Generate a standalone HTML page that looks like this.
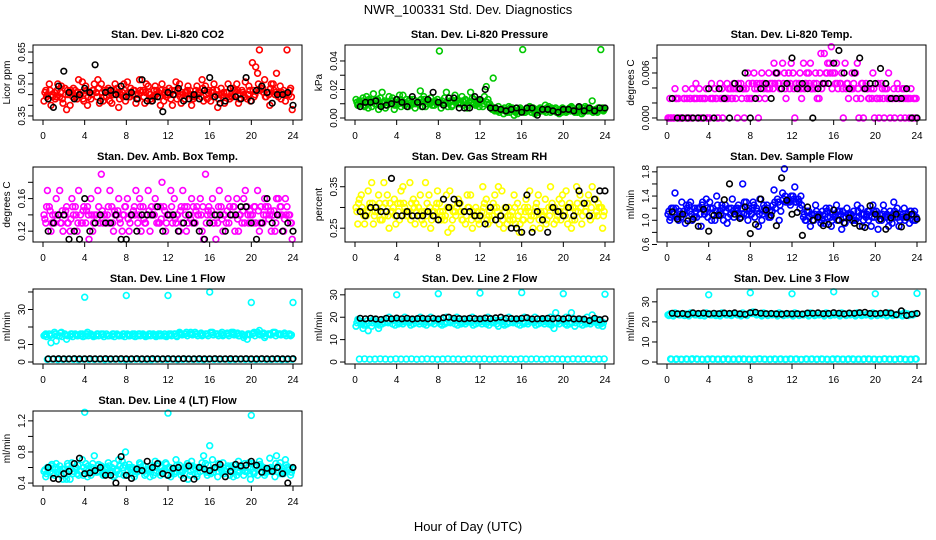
<!DOCTYPE html>
<html><head><meta charset="utf-8">
<style>
body{margin:0;background:#fff;}
svg{display:block;font-family:"Liberation Sans",Arial,sans-serif;}
</style></head>
<body>
<svg id="chart" width="936" height="540" viewBox="0 0 936 540">
<rect width="936" height="540" fill="#fff"/>
<text x="468" y="14" text-anchor="middle" font-size="13">NWR_100331  Std. Dev. Diagnostics</text>
<text x="468" y="531" text-anchor="middle" font-size="13">Hour of Day (UTC)</text>
</svg>
<script>
// ---- data (values at half-hour slots) ----
const xTicks = [0,4,8,12,16,20,24];
const co2A = [0.42,0.50,0.46,0.44,0.48,0.40,0.47,0.45,0.49,0.43,0.46,0.50,0.44,0.41,0.48,0.46,0.51,0.45,0.43,0.47,0.49,0.44,0.46,0.42,0.48,0.45,0.50,0.43,0.47,0.44,0.46,0.49,0.42,0.45,0.48,0.46,0.44,0.50,0.47,0.43,0.60,0.55,0.48,0.46,0.50,0.44,0.47,0.45];
const co2B = [0.47,0.40,0.44,0.49,0.38,0.46,0.43,0.51,0.40,0.47,0.52,0.42,0.48,0.45,0.39,0.50,0.44,0.47,0.52,0.41,0.45,0.49,0.40,0.47,0.43,0.51,0.41,0.46,0.40,0.49,0.52,0.43,0.47,0.39,0.44,0.50,0.48,0.41,0.45,0.49,0.44,0.66,0.52,0.40,0.45,0.49,0.42,0.48];
const co2C = [0.45,0.44,0.50,0.41,0.45,0.48,0.52,0.42,0.46,0.50,0.41,0.47,0.42,0.50,0.45,0.42,0.48,0.41,0.46,0.50,0.42,0.47,0.50,0.45,0.40,0.47,0.45,0.49,0.43,0.46,0.42,0.47,0.50,0.45,0.41,0.43,0.47,0.45,0.51,0.42,0.58,0.48,0.44,0.50,0.55,0.46,0.66,0.38];
const co2D = [0.46,0.47,0.43,0.46,0.45,0.47,0.44,0.46,0.47,0.45,0.44,0.46,0.47,0.45,0.46,0.44,0.46,0.47,0.45,0.44,0.46,0.47,0.44,0.46,0.45,0.47,0.44,0.46,0.45,0.47,0.44,0.45,0.46,0.47,0.45,0.46,0.44,0.47,0.46,0.45,0.47,0.50,0.46,0.45,0.47,0.46,0.45,0.47];
const co2E = [0.44,0.45,0.47,0.43,0.47,0.44,0.46,0.43,0.44,0.47,0.48,0.44,0.45,0.47,0.43,0.47,0.44,0.45,0.47,0.46,0.43,0.45,0.47,0.44,0.47,0.43,0.46,0.47,0.44,0.45,0.48,0.46,0.44,0.43,0.46,0.44,0.47,0.43,0.44,0.47,0.45,0.47,0.44,0.48,0.46,0.43,0.45,0.44];
const co2K = [0.43,0.39,0.49,0.56,0.46,0.43,0.45,0.48,0.46,0.59,0.42,0.46,0.47,0.45,0.49,0.44,0.46,0.43,0.52,0.42,0.42,0.44,0.37,0.46,0.45,0.48,0.42,0.43,0.45,0.43,0.47,0.53,0.44,0.41,0.42,0.48,0.44,0.43,0.53,0.42,0.47,0.49,0.46,0.41,0.45,0.45,0.46,0.40];
const prA = [0.013,0.010,0.015,0.008,0.012,0.018,0.009,0.014,0.011,0.016,0.008,0.013,0.010,0.015,0.012,0.009,0.047,0.014,0.011,0.016,0.010,0.013,0.018,0.009,0.012,0.022,0.008,0.005,0.006,0.004,0.007,0.003,0.048,0.005,0.007,0.004,0.006,0.008,0.005,0.003,0.006,0.007,0.004,0.006,0.008,0.005,0.006,0.048];
const prB = [0.009,0.014,0.007,0.017,0.006,0.011,0.015,0.006,0.016,0.009,0.013,0.007,0.019,0.008,0.014,0.011,0.007,0.018,0.008,0.012,0.015,0.007,0.014,0.011,0.008,0.013,0.028,0.008,0.003,0.008,0.002,0.006,0.004,0.008,0.003,0.007,0.009,0.004,0.007,0.006,0.004,0.008,0.005,0.003,0.007,0.012,0.004,0.007];
const prC = [0.012,0.008,0.012,0.010,0.014,0.007,0.012,0.010,0.008,0.013,0.011,0.010,0.008,0.012,0.009,0.013,0.010,0.008,0.012,0.010,0.009,0.011,0.013,0.008,0.015,0.010,0.005,0.006,0.005,0.007,0.004,0.005,0.006,0.004,0.006,0.005,0.007,0.005,0.004,0.007,0.006,0.005,0.007,0.004,0.006,0.005,0.007,0.006];
const prD = [0.011,0.012,0.010,0.011,0.013,0.010,0.011,0.012,0.010,0.011,0.012,0.010,0.011,0.013,0.010,0.012,0.011,0.010,0.012,0.011,0.010,0.012,0.011,0.010,0.012,0.011,0.006,0.005,0.006,0.005,0.006,0.005,0.005,0.006,0.005,0.006,0.005,0.006,0.006,0.005,0.006,0.005,0.006,0.005,0.006,0.006,0.005,0.006];
const prE = [0.010,0.009,0.013,0.012,0.009,0.012,0.010,0.009,0.013,0.010,0.009,0.012,0.013,0.010,0.011,0.010,0.012,0.011,0.009,0.013,0.012,0.009,0.010,0.012,0.010,0.009,0.007,0.004,0.007,0.004,0.005,0.007,0.004,0.007,0.004,0.005,0.004,0.007,0.004,0.004,0.005,0.007,0.004,0.007,0.005,0.004,0.007,0.005];
const prK = [0.008,0.011,0.011,0.012,0.008,0.009,0.010,0.013,0.011,0.008,0.015,0.011,0.008,0.013,0.018,0.011,0.009,0.014,0.014,0.007,0.007,0.007,0.015,0.013,0.020,0.007,0.007,0.006,0.005,0.006,0.007,0.004,0.007,0.007,0.002,0.006,0.006,0.005,0.004,0.006,0.006,0.005,0.008,0.005,0.007,0.005,0.007,0.007];
const tmA = [0,0,0.0026,0.0026,0,0.0026,0.0039,0.0026,0,0.0039,0.0046,0.0026,0.0039,0.0026,0.0046,0.0039,0.0026,0.0046,0.0060,0.0039,0.0046,0.0060,0.0073,0.0046,0.0060,0.0039,0.0073,0.0060,0.0046,0.0026,0.0086,0.0073,0.0060,0.0046,0.0073,0.0039,0.0060,0.0026,0.0046,0.0039,0.0026,0.0046,0.0039,0.0026,0.0046,0.0039,0.0026,0];
const tmB = [0.0026,0.0039,0,0.0039,0.0026,0.0046,0,0.0039,0.0046,0.0026,0.0039,0.0046,0.0026,0,0.0039,0.0060,0.0046,0,0.0039,0.0060,0.0073,0.0046,0.0060,0.0039,0,0.0060,0.0046,0.0073,0.0060,0.0086,0.0060,0.0095,0.0073,0.0060,0.0046,0.0060,0.0073,0.0046,0.0039,0.0060,0.0046,0.0026,0.0060,0.0039,0.0026,0.0039,0,0.0026];
const tmC = [0,0.0026,0,0.0026,0.0039,0,0.0026,0,0.0026,0,0.0026,0.0039,0.0046,0.0039,0,0.0026,0.0039,0.0046,0.0026,0.0046,0.0060,0.0039,0.0026,0.0073,0.0046,0.0026,0.0060,0.0039,0.0026,0.0046,0.0073,0.0060,0.0039,0,0.0026,0.0046,0,0.0039,0.0026,0,0.0026,0.0039,0,0.0026,0,0.0026,0.0039,0.0026];
const tmD = [0,0,0,0.0026,0.0026,0.0026,0.0026,0.0026,0.0026,0.0026,0.0026,0.0026,0.0026,0.0039,0.0026,0.0026,0.0046,0.0039,0.0046,0.0039,0.0039,0.0046,0.0046,0.0060,0.0039,0.0046,0.0039,0.0046,0.0039,0.0060,0.0046,0.0060,0.0046,0.0046,0.0039,0.0039,0.0026,0.0046,0.0039,0.0026,0.0026,0.0039,0.0026,0.0026,0.0039,0.0026,0.0026,0.0026];
const tmE = [0,0.0026,0,0,0,0.0026,0,0,0.0026,0,0,0.0026,0.0039,0.0046,0.0039,0.0046,0.0060,0.0026,0.0046,0.0039,0.0046,0.0039,0.0039,0.0046,0.0046,0.0039,0.0046,0.0039,0.0046,0.0039,0.0060,0.0039,0.0046,0.0039,0.0046,0.0039,0.0039,0,0.0026,0.0039,0,0,0.0026,0,0.0026,0,0.0026,0];
const tmK = [0.0026,0,0,0,0,0,0,0.0039,0,0.0039,0.0026,0,0.0046,0.0039,0.0060,0,0.0026,0.0039,0.0046,0.0026,0.0060,0.0039,0.0046,0.0080,0.0039,0.0046,0.0039,0,0.0039,0.0046,0.0046,0.0073,0.0090,0.0060,0.0039,0.0060,0.0080,0.0039,0.0046,0.0046,0.0066,0.0046,0.0026,0.0026,0.0026,0.0039,0,0];
const abA = [0.14,0.15,0.13,0.17,0.14,0.12,0.15,0.14,0.13,0.16,0.14,0.19,0.13,0.15,0.14,0.12,0.16,0.14,0.13,0.15,0.17,0.14,0.13,0.15,0.14,0.16,0.12,0.15,0.14,0.13,0.16,0.19,0.14,0.11,0.15,0.13,0.14,0.16,0.13,0.15,0.14,0.17,0.13,0.15,0.14,0.16,0.12,0.14];
const abB = [0.13,0.12,0.16,0.13,0.15,0.16,0.12,0.13,0.15,0.12,0.17,0.13,0.15,0.12,0.16,0.14,0.12,0.15,0.16,0.13,0.12,0.16,0.15,0.12,0.17,0.13,0.15,0.12,0.16,0.15,0.12,0.14,0.16,0.13,0.12,0.16,0.15,0.12,0.16,0.13,0.15,0.12,0.16,0.14,0.12,0.15,0.16,0.13];
const abC = [0.17,0.14,0.14,0.12,0.13,0.14,0.17,0.15,0.11,0.14,0.13,0.14,0.17,0.14,0.13,0.15,0.14,0.17,0.12,0.14,0.15,0.13,0.18,0.14,0.13,0.14,0.17,0.13,0.15,0.14,0.11,0.15,0.13,0.17,0.14,0.15,0.12,0.14,0.17,0.14,0.13,0.15,0.14,0.12,0.16,0.14,0.15,0.11];
const abD = [0.135,0.145,0.14,0.13,0.145,0.135,0.14,0.13,0.145,0.14,0.135,0.145,0.14,0.13,0.145,0.14,0.135,0.145,0.14,0.135,0.145,0.14,0.13,0.145,0.14,0.135,0.145,0.14,0.135,0.145,0.14,0.13,0.145,0.14,0.135,0.145,0.14,0.135,0.145,0.14,0.13,0.145,0.14,0.135,0.145,0.14,0.135,0.14];
const abE = [0.15,0.13,0.135,0.145,0.13,0.15,0.13,0.145,0.14,0.13,0.15,0.14,0.13,0.145,0.135,0.15,0.13,0.14,0.15,0.13,0.14,0.15,0.135,0.13,0.15,0.14,0.13,0.15,0.13,0.14,0.15,0.145,0.13,0.15,0.14,0.13,0.15,0.14,0.13,0.145,0.15,0.13,0.15,0.145,0.13,0.15,0.14,0.13];
const abK = [0.12,0.13,0.14,0.14,0.11,0.12,0.11,0.16,0.12,0.13,0.14,0.13,0.13,0.14,0.11,0.11,0.14,0.12,0.14,0.14,0.14,0.15,0.12,0.14,0.14,0.12,0.13,0.14,0.13,0.12,0.11,0.13,0.14,0.14,0.12,0.14,0.14,0.15,0.15,0.13,0.11,0.13,0.16,0.13,0.14,0.12,0.13,0.12];
const rhA = [0.30,0.33,0.28,0.36,0.30,0.27,0.33,0.29,0.31,0.35,0.28,0.32,0.30,0.26,0.33,0.29,0.31,0.27,0.34,0.29,0.31,0.26,0.33,0.30,0.28,0.32,0.27,0.30,0.34,0.26,0.29,0.31,0.27,0.30,0.25,0.33,0.28,0.30,0.26,0.32,0.29,0.31,0.27,0.33,0.29,0.27,0.32,0.30];
const rhB = [0.26,0.29,0.34,0.26,0.33,0.36,0.25,0.32,0.27,0.30,0.36,0.26,0.33,0.36,0.25,0.30,0.27,0.33,0.25,0.30,0.27,0.33,0.25,0.29,0.35,0.26,0.31,0.35,0.25,0.30,0.33,0.24,0.30,0.34,0.29,0.25,0.32,0.35,0.29,0.27,0.34,0.25,0.35,0.26,0.31,0.35,0.28,0.25];
const rhC = [0.32,0.26,0.31,0.29,0.27,0.31,0.29,0.26,0.34,0.28,0.31,0.29,0.27,0.31,0.29,0.34,0.29,0.24,0.29,0.32,0.29,0.30,0.28,0.26,0.31,0.29,0.33,0.28,0.30,0.28,0.26,0.29,0.32,0.28,0.31,0.28,0.27,0.31,0.28,0.33,0.26,0.30,0.29,0.31,0.33,0.28,0.30,0.29];
const rhD = [0.29,0.30,0.29,0.31,0.29,0.30,0.28,0.30,0.29,0.31,0.29,0.30,0.28,0.29,0.30,0.28,0.29,0.28,0.30,0.28,0.29,0.28,0.27,0.28,0.29,0.27,0.28,0.29,0.27,0.28,0.27,0.28,0.27,0.29,0.28,0.27,0.29,0.28,0.30,0.29,0.28,0.30,0.29,0.30,0.29,0.30,0.29,0.30];
const rhE = [0.31,0.28,0.30,0.28,0.31,0.28,0.31,0.28,0.31,0.29,0.27,0.31,0.29,0.28,0.27,0.31,0.28,0.30,0.27,0.31,0.27,0.30,0.29,0.27,0.30,0.28,0.30,0.26,0.29,0.27,0.30,0.26,0.29,0.27,0.30,0.29,0.26,0.30,0.27,0.31,0.30,0.27,0.31,0.28,0.31,0.28,0.31,0.28];
const rhK = [0.29,0.28,0.30,0.30,0.29,0.29,0.37,0.28,0.28,0.29,0.28,0.28,0.28,0.29,0.28,0.27,0.32,0.30,0.32,0.31,0.29,0.29,0.28,0.28,0.26,0.30,0.27,0.28,0.30,0.25,0.25,0.24,0.33,0.24,0.29,0.27,0.24,0.30,0.29,0.28,0.30,0.28,0.34,0.31,0.28,0.32,0.34,0.34];
const sfA = [1.1,1.2,1.0,1.15,1.25,1.05,1.2,1.1,1.3,1.0,1.15,1.25,1.1,1.2,1.05,1.3,1.1,1.2,1.0,1.25,1.15,1.35,1.45,1.3,1.4,1.35,1.05,1.15,1.0,1.1,0.95,1.2,1.05,1.15,0.95,1.1,1.0,1.2,1.05,0.9,1.15,1.0,1.1,0.95,1.2,1.05,1.1,1.0];
const sfB = [1.0,1.45,1.1,0.95,1.3,1.15,0.9,1.35,1.0,1.4,1.25,0.95,1.35,1.2,1.6,1.0,1.3,0.9,1.25,1.05,1.5,1.0,1.85,1.3,1.55,1.2,1.0,0.9,1.25,0.95,1.2,0.9,1.25,0.85,1.2,1.0,1.25,0.9,1.15,1.25,0.85,1.25,0.9,1.3,0.9,1.2,0.95,1.15];
const sfC = [1.2,1.05,1.3,1.2,1.0,1.2,1.3,1.05,1.2,1.1,1.0,1.2,1.05,1.1,1.3,1.15,1.05,1.35,1.15,1.05,1.2,1.15,1.3,1.4,1.3,1.25,1.15,1.1,1.05,1.15,1.05,1.1,1.15,1.05,1.1,1.15,1.05,1.1,1.15,1.05,1.1,1.05,1.15,1.05,1.1,1.05,1.15,1.05];
const sfD = [1.15,1.1,1.15,1.1,1.15,1.2,1.1,1.15,1.2,1.15,1.1,1.15,1.2,1.15,1.2,1.1,1.2,1.15,1.1,1.2,1.25,1.3,1.35,1.35,1.35,1.3,1.1,1.05,1.1,1.05,1.1,1.05,1.1,1.1,1.05,1.1,1.05,1.1,1.1,1.05,1.1,1.1,1.05,1.1,1.05,1.1,1.05,1.1];
const sfE = [1.05,1.2,1.05,1.25,1.1,1.05,1.25,1.2,1.1,1.25,1.2,1.05,1.15,1.25,1.1,1.2,1.25,1.1,1.2,1.15,1.3,1.25,1.4,1.25,1.3,1.4,1.0,1.1,1.15,1.0,1.15,1.0,1.0,1.15,1.1,1.0,1.15,1.0,1.0,1.15,1.0,1.15,1.0,1.15,1.0,1.0,1.15,1.0];
const sfK = [1.14,1.02,1.1,0.99,1.02,0.9,1.18,0.82,1.08,1.08,1.34,1.6,1.1,1.03,1.22,0.78,0.93,1.35,1.17,1.08,0.91,1.7,1.33,1.1,1.13,0.75,1.22,1.0,1.05,0.91,0.93,1.17,1.0,0.96,1.04,0.95,0.9,0.88,1.24,1.1,1.02,0.85,1.04,1.1,0.89,1.05,1.1,1.02];
const l1A = [15,16,17,15,16,15,16,16,15,16,15,16,16,15,16,15,16,16,15,16,15,16,16,15,16,16,17,16,16,17,16,16,17,16,16,16,17,16,16,13,16,17,16,16,17,16,16,16];
const l1B = [16,11,12,17,13,16,15,16,17,15,16,16,15,16,15,16,15,16,16,15,16,15,16,15,16,15,16,17,16,16,15,16,17,16,15,16,17,15,14,16,17,18,14,16,17,16,16,15];
const l1Low = [1.5,1.6,1.4,1.5,1.6,1.5,1.4,1.6,1.5,1.5,1.6,1.4,1.5,1.6,1.5,1.4,1.5,1.6,1.5,1.5,1.4,1.6,1.5,1.5,1.6,1.4,1.5,1.6,1.5,1.5,1.4,1.6,1.5,1.5,1.6,1.4,1.5,1.6,1.5,1.5,1.4,1.6,1.5,1.5,1.6,1.4,1.5,1.6];
const l1D = [15.5,15,16,16.5,15.5,16,15.5,15,16,15.5,16,15.5,15,16,15.5,16,15.5,15,16,15.5,16,15.5,15,16,15.5,16,16.5,16,17,16,16.5,16,16.5,16,17,16.5,16,16.5,15.5,16,16.5,16,16.5,16,16.5,16,16.5,16];
const l1E = [14.5,15.5,15,14.5,15,14.5,15,14.5,15,14.5,15,14.5,15,14.5,15,14.5,15,14.5,15,14.5,15,14.5,15,14.5,15,14.5,15.5,15,15.5,15,15.5,15,15.5,15,15.5,15,15.5,15,15,15.5,15,15.5,15,15.5,15,15.5,15,15.5];
const l1K = [1.8,1.8,1.9,1.8,1.8,1.9,1.8,1.8,1.9,1.8,1.8,1.9,1.8,1.8,1.9,1.8,1.8,1.9,1.8,1.8,1.9,1.8,1.8,1.9,1.8,1.8,1.9,1.8,1.8,1.9,1.8,1.8,1.9,1.8,1.8,1.9,1.8,1.8,1.9,1.8,1.8,1.9,1.8,1.8,1.9,1.8,1.8,1.9];
const l1OutH = [4,8,12,16,20,24];
const l1OutV = [37,38,38,40,34,34];
const l2A = [16,18,17,16,18,17,18,17,18,17,18,17,18,17,18,17,18,17,18,17,18,17,18,17,18,17,18,17,18,17,18,17,18,17,18,17,18,17,15,17,18,17,16,17,18,17,18,17];
const l2B = [19,15,14,19,15,19,20,19,19,20,19,19,20,19,20,19,19,20,19,20,19,19,20,19,19,20,19,16,19,20,19,19,20,19,20,19,19,20,22,19,20,22,19,19,20,21,19,16];
const l2Low = [1.3,1.4,1.2,1.3,1.4,1.3,1.2,1.4,1.3,1.3,1.4,1.2,1.3,1.4,1.3,1.2,1.3,1.4,1.3,1.3,1.2,1.4,1.3,1.3,1.4,1.2,1.3,1.4,1.3,1.3,1.2,1.4,1.3,1.3,1.4,1.2,1.3,1.4,1.3,1.3,1.2,1.4,1.3,1.3,1.4,1.2,1.3,1.4];
const l2D = [17.5,17,18.5,17.5,17,18,17.5,18.5,17,18,17.5,18.5,17,18,17.5,18.5,17,18,17.5,18.5,17,18,17.5,18.5,17,18,17.5,18.5,17,18,17.5,18.5,17,18,17.5,18.5,17,18,17.5,18.5,17,18,17.5,18.5,17,18,17.5,18];
const l2E = [18.5,16.5,17.5,18.5,16.5,17.5,18.5,16.5,17.5,18.5,16.5,17.5,18.5,16.5,17.5,18.5,16.5,17.5,18.5,16.5,17.5,18.5,16.5,17.5,18.5,16.5,17.5,18.5,16.5,17.5,18.5,16.5,17.5,18.5,16.5,17.5,18.5,16.5,17.5,18.5,16.5,17.5,18.5,16.5,17.5,18.5,16.5,17.5];
const l2K = [19.5,19.3,19.5,19.2,19,19.5,19.3,19.6,19.3,19.5,19.2,19.4,19.5,19.3,19.5,19.2,19.8,20,19.5,19.4,19.3,19.5,19.4,19.3,19.6,19.4,19.7,20,19.5,19.4,19.3,19.5,19.8,19.2,19.3,19.4,19.5,19.3,19.5,19.2,19.6,19.2,19.3,19.1,18.5,19.5,18.9,19.3];
const l2OutH = [4,8,12,16,20,24];
const l2OutV = [30,30.5,30.8,31,30.5,30.3];
const l3A = [23.5,23,24,23.5,23,24,23.5,23,24,23.5,23,24,23.5,24,23,23.5,24.5,23.5,23,24,23.5,23,24,23.5,23,24,23.5,23,24,23.5,23,24,23.5,23,24,23.5,23,24,23.5,23,24,23.5,23,24,23.5,23,24,23.5];
const l3B = [24,24.5,23.5,24,24.5,23.5,24,24.5,23.5,24,24.5,23.5,24,23.5,24.5,24,25,24,24.5,23.5,24,24.5,23.5,24,24.5,23.5,24,24.5,23.5,24,24.5,23.5,24,24.5,23.5,24,24.5,23.5,24,24.5,23.5,24,24.5,23.5,24,24.5,23.5,24];
const l3Low = [1.4,1.5,1.3,1.4,1.6,1.4,1.3,1.5,1.4,1.4,1.5,1.3,1.4,1.5,1.4,1.3,1.4,1.5,1.4,1.4,1.3,1.5,1.4,1.4,1.5,1.3,1.4,1.5,1.4,1.4,1.3,1.5,1.4,1.4,1.5,1.3,1.4,1.5,1.4,1.4,1.3,1.5,1.4,1.4,1.5,1.3,1.4,1.5];
const l3D = [23.2,23.8,23.5,23.2,23.8,23.5,23.2,23.8,23.5,23.2,23.8,23.5,23.2,23.8,23.5,23.2,24.2,23.8,23.5,23.2,23.8,23.5,23.2,23.8,23.5,23.2,23.8,23.5,23.2,23.8,23.5,23.2,23.8,23.5,23.2,23.8,23.5,23.2,23.8,23.5,23.2,23.8,23.5,23.2,23.8,23.5,23.2,23.8];
const l3E = [1.5,1.3,1.4,1.5,1.3,1.5,1.4,1.3,1.5,1.4,1.3,1.5,1.4,1.3,1.5,1.4,1.3,1.5,1.4,1.3,1.5,1.4,1.3,1.5,1.4,1.3,1.5,1.4,1.3,1.5,1.4,1.3,1.5,1.4,1.3,1.5,1.4,1.3,1.5,1.4,1.3,1.5,1.4,1.3,1.5,1.4,1.3,1.5];
const l3K = [24.3,24,24.2,23.8,24.5,24.2,24.4,24,24.3,24.1,24.4,24.2,24.5,24,23.8,24.6,24.8,24.3,24.1,24.2,24,23.9,24.2,24,24.1,23.9,24.4,24.3,24.5,24.1,24.2,24.6,24.3,24,24.4,24.3,24.6,24.8,24.2,24.1,24.3,24.6,24.4,23.6,25.5,23.2,23.8,24.2];
const l3OutH = [4,8,12,16,20,24];
const l3OutV = [33.5,34.5,34,35,34,34.2];
const l4A = [0.55,0.6,0.5,0.62,0.58,0.45,0.6,0.55,0.65,0.5,0.58,0.62,0.52,0.6,0.55,0.68,0.5,0.6,0.55,0.62,0.58,0.5,0.65,0.55,0.6,0.52,0.63,0.58,0.5,0.6,0.55,0.65,0.52,0.6,0.58,0.55,0.62,0.5,0.6,0.55,0.65,0.5,0.6,0.58,0.55,0.62,0.52,0.6];
const l4B = [0.48,0.62,0.65,0.5,0.45,0.66,0.52,0.7,0.48,0.65,0.62,0.5,0.66,0.48,0.7,0.5,0.64,0.48,0.66,0.5,0.48,0.68,0.5,0.66,0.48,0.7,0.5,0.62,0.68,0.48,0.66,0.5,0.7,0.48,0.66,0.62,0.48,0.68,0.5,0.66,0.52,0.68,0.5,0.72,0.48,0.66,0.7,0.5];
const l4C = [0.6,0.52,0.58,0.45,0.62,0.55,0.5,0.6,0.58,0.75,0.55,0.6,0.55,0.5,0.62,0.8,0.58,0.55,0.6,0.52,0.58,0.62,0.55,0.5,0.58,0.6,0.55,0.45,0.58,0.6,0.75,0.55,0.58,0.6,0.55,0.5,0.58,0.6,0.55,0.45,0.6,0.62,0.55,0.58,0.75,0.55,0.6,0.58];
const l4D = [0.57,0.55,0.6,0.56,0.53,0.58,0.6,0.55,0.57,0.6,0.54,0.58,0.6,0.55,0.57,0.6,0.55,0.58,0.6,0.55,0.57,0.6,0.54,0.58,0.6,0.55,0.57,0.6,0.55,0.58,0.6,0.54,0.57,0.6,0.55,0.58,0.6,0.55,0.57,0.6,0.54,0.58,0.6,0.55,0.57,0.6,0.55,0.58];
const l4E = [0.52,0.64,0.54,0.58,0.65,0.52,0.63,0.5,0.62,0.54,0.64,0.52,0.62,0.65,0.52,0.63,0.6,0.52,0.64,0.56,0.62,0.53,0.6,0.64,0.52,0.63,0.54,0.65,0.62,0.52,0.6,0.63,0.54,0.65,0.52,0.6,0.63,0.54,0.65,0.52,0.62,0.64,0.53,0.6,0.65,0.52,0.63,0.54];
const l4K = [0.6,0.46,0.45,0.52,0.55,0.65,0.72,0.52,0.53,0.56,0.6,0.5,0.5,0.4,0.74,0.5,0.46,0.58,0.56,0.68,0.6,0.65,0.52,0.5,0.59,0.6,0.46,0.62,0.45,0.6,0.58,0.56,0.6,0.64,0.48,0.55,0.64,0.62,0.63,0.68,0.63,0.54,0.59,0.55,0.6,0.52,0.4,0.6];
const l4OutH = [4,12,16,20];
const l4OutV = [1.31,1.30,0.88,1.27];

const panels = [
 {name:'co2',title:'Stan. Dev. Li-820 CO2',ylab:'Licor ppm',col:'#ff0000',r:0,c:0,dom:[0.331,0.683],ticks:[0.35,0.40,0.45,0.50,0.55,0.60,0.65],labs:['0.35','','','0.50','','','0.65'],ser:[co2A,co2B,co2C,co2D,co2E],k:co2K},
 {name:'pressure',title:'Stan. Dev. Li-820 Pressure',ylab:'kPa',col:'#00c800',r:0,c:1,dom:[-0.0014,0.0512],ticks:[0,0.01,0.02,0.03,0.04],labs:['0.00','','0.02','','0.04'],ser:[prA,prB,prC,prD,prE],k:prK},
 {name:'temp',title:'Stan. Dev. Li-820 Temp.',ylab:'degrees C',col:'#ff00ff',r:0,c:2,dom:[-0.00027,0.00973],ticks:[0,0.002,0.004,0.006,0.008],labs:['0.000','','','0.006',''],ser:[tmA,tmB,tmC,tmD,tmE],k:tmK},
 {name:'amb-box-temp',title:'Stan. Dev. Amb. Box Temp.',ylab:'degrees C',col:'#ff00ff',r:1,c:0,dom:[0.1067,0.1988],ticks:[0.12,0.14,0.16,0.18],labs:['0.12','','0.16',''],ser:[abA,abB,abC,abD,abE],k:abK},
 {name:'gas-rh',title:'Stan. Dev. Gas Stream RH',ylab:'percent',col:'#ffff00',r:1,c:1,dom:[0.2167,0.3976],ticks:[0.25,0.30,0.35],labs:['0.25','','0.35'],ser:[rhA,rhB,rhC,rhD,rhE],k:rhK},
 {name:'sample-flow',title:'Stan. Dev. Sample Flow',ylab:'ml/min',col:'#0000ff',r:1,c:2,dom:[0.641,1.88],ticks:[0.6,0.8,1.0,1.2,1.4,1.6,1.8],labs:['0.6','','1.0','','1.4','','1.8'],ser:[sfA,sfB,sfC,sfD,sfE],k:sfK},
 {name:'line1-flow',title:'Stan. Dev. Line 1 Flow',ylab:'ml/min',col:'#00ffff',r:2,c:0,dom:[-1.13,41.7],ticks:[0,10,20,30,40],labs:['0','10','','30',''],ser:[l1A,l1B,l1Low,l1D,l1E],k:l1K,oh:l1OutH,ov:l1OutV},
 {name:'line2-flow',title:'Stan. Dev. Line 2 Flow',ylab:'ml/min',col:'#00ffff',r:2,c:1,dom:[-0.88,32.6],ticks:[0,10,20,30],labs:['0','10','20','30'],ser:[l2A,l2B,l2Low,l2D,l2E],k:l2K,oh:l2OutH,ov:l2OutV},
 {name:'line3-flow',title:'Stan. Dev. Line 3 Flow',ylab:'ml/min',col:'#00ffff',r:2,c:2,dom:[-0.98,36.4],ticks:[0,10,20,30],labs:['0','10','20','30'],ser:[l3A,l3B,l3Low,l3D,l3E],k:l3K,oh:l3OutH,ov:l3OutV},
 {name:'line4-flow',title:'Stan. Dev. Line 4 (LT) Flow',ylab:'ml/min',col:'#00ffff',r:3,c:0,dom:[0.362,1.327],ticks:[0.4,0.6,0.8,1.0,1.2],labs:['0.4','','0.8','','1.2'],ser:[l4A,l4B,l4C,l4D,l4E],k:l4K,oh:l4OutH,ov:l4OutV}
];

const NS='http://www.w3.org/2000/svg';
const svg=document.getElementById('chart');
function mk(tag,attrs,parent){const e=document.createElementNS(NS,tag);for(const k in attrs)e.setAttribute(k,attrs[k]);parent.appendChild(e);return e;}
const offs=[0.1,0.27,0.42,0.18,0.35];
panels.forEach(p=>{
  const top=45+122*p.r, bot=top+75;
  const x0=43+312*p.c, x24=293+312*p.c;
  const left=x0-10, right=x24+9;
  const xs=h=>x0+(x24-x0)*h/24;
  const ys=v=>bot-(v-p.dom[0])/(p.dom[1]-p.dom[0])*(bot-top);
  const g=mk('g',{},svg);
  
  
  const t=mk('text',{x:(left+right)/2,y:top-7,'text-anchor':'middle','font-size':'11','font-weight':'bold'},g);
  t.textContent=p.title;
  
  
  const yl=mk('text',{x:0,y:0,'text-anchor':'middle','font-size':'10',transform:`translate(${left-23},${(top+bot)/2}) rotate(-90)`},g);
  yl.textContent=p.ylab;
  
  
  const pts=mk('g',{fill:'none','stroke-width':'1.6'},g);
  
  
  p.ser.forEach((arr,si)=>{
    arr.forEach((v,i)=>{
      const c=mk('circle',{cx:xs(i*0.5+offs[si]).toFixed(1),cy:ys(v).toFixed(1),r:2.9,stroke:p.col},pts);
      
      
    });
  });
  if(p.oh){p.oh.forEach((h,i)=>{
    const c=mk('circle',{cx:xs(h).toFixed(1),cy:ys(p.ov[i]).toFixed(1),r:2.9,stroke:p.col},pts);
    
    
  });}
  p.k.forEach((v,i)=>{
    const c=mk('circle',{cx:xs(i*0.5+0.5).toFixed(1),cy:ys(v).toFixed(1),r:2.8,stroke:'#000'},pts);
    
    
  });
  const b=mk('rect',{x:left,y:top,width:right-left,height:bot-top,fill:'none',stroke:'#000','stroke-width':'1'},g);
  
  
  xTicks.forEach(h=>{
    mk('line',{x1:xs(h),x2:xs(h),y1:bot,y2:bot+5,stroke:'#000'},g);
    const tl=mk('text',{x:xs(h),y:bot+19,'text-anchor':'middle','font-size':'10'},g);
    tl.textContent=String(h);
    
    
  });
  p.ticks.forEach((v,i)=>{
    const y=ys(v);
    mk('line',{x1:left-5,x2:left,y1:y,y2:y,stroke:'#000'},g);
    if(p.labs[i]){
      const tl=mk('text',{x:0,y:0,'text-anchor':'middle','font-size':'10',transform:`translate(${left-8},${y}) rotate(-90)`},g);
      tl.textContent=p.labs[i];
      
      
    }
  });
});
</script>
</body></html>
